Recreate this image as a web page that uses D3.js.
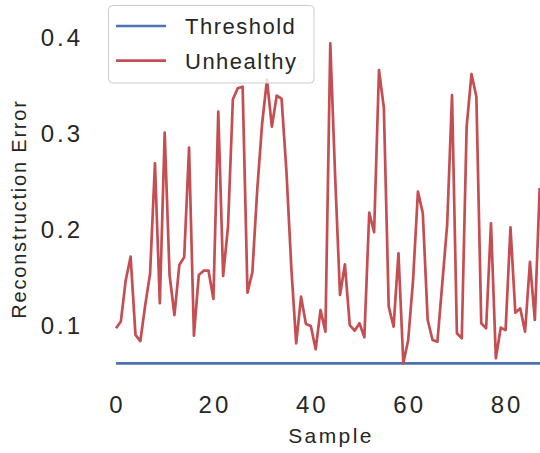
<!DOCTYPE html>
<html>
<head>
<meta charset="utf-8">
<script src="https://cdn.jsdelivr.net/npm/d3@7"></script>
<style>
  html, body { margin: 0; padding: 0; background: #fff; }
  svg { display: block; }
  text { font-family: "Liberation Sans", Arial, sans-serif; fill: #262626; }
</style>
</head>
<body>
<svg id="chart" width="540" height="453"></svg>
<script>
// ---- data ----
const unhealthy = [
  0.097, 0.104, 0.147, 0.1715, 0.090, 0.0836, 0.121, 0.154, 0.2687, 0.123,
  0.3006, 0.1524, 0.1107, 0.1628, 0.1708, 0.285, 0.0892, 0.1524, 0.1569, 0.1569,
  0.1274, 0.3225, 0.1514, 0.2027, 0.3354, 0.3469, 0.3485, 0.134, 0.1552, 0.241,
  0.3097, 0.356, 0.3069, 0.3392, 0.336, 0.26, 0.16, 0.0812, 0.1298, 0.1014,
  0.0993, 0.075, 0.1159, 0.0933, 0.3938, 0.255, 0.1316, 0.1635, 0.1003, 0.0944,
  0.1021, 0.0875, 0.2173, 0.1969, 0.3659, 0.3266, 0.1194, 0.0985, 0.175, 0.0604,
  0.0847, 0.1472, 0.2392, 0.2167, 0.1055, 0.0847, 0.0829, 0.1437, 0.2045, 0.3399,
  0.0917, 0.0865, 0.3069, 0.3618, 0.3381, 0.1021, 0.0969, 0.2062, 0.0656, 0.0975,
  0.0951, 0.2021, 0.1131, 0.1177, 0.0933, 0.1662, 0.1055, 0.243
];
const threshold = 0.0604;
const xTicks = [0, 20, 40, 60, 80];
const yTicks = [0.1, 0.2, 0.3, 0.4];
const seriesNames = ["Threshold", "Unhealthy"];
const seriesColors = ["#4c72b0", "#c44e52"];

// ---- layout ----
const svg = d3.select("#chart");
const plot = { left: 116, right: 540, top: 0, bottom: 385 };

const x = d3.scaleLinear().domain([0, 80]).range([116, 505.6]);
const y = d3.scaleLinear().domain([0.1, 0.4]).range([325.3, 37.3]);

svg.append("defs").append("clipPath").attr("id", "clip")
  .append("rect").attr("x", plot.left - 2).attr("y", plot.top)
  .attr("width", plot.right - plot.left + 2).attr("height", plot.bottom - plot.top);

const g = svg.append("g").attr("clip-path", "url(#clip)");

const xMaxIdx = unhealthy.length - 1;
// threshold line
g.append("path")
  .datum([0, xMaxIdx + 5])
  .attr("d", d3.line().x(d => x(d)).y(() => y(threshold)))
  .attr("fill", "none").attr("stroke", seriesColors[0]).attr("stroke-width", 2.7);

// unhealthy line
g.append("path")
  .datum(unhealthy)
  .attr("d", d3.line().x((d, i) => x(i)).y(d => y(d)))
  .attr("fill", "none").attr("stroke", seriesColors[1]).attr("stroke-width", 2.7)
  .attr("stroke-linejoin", "round");

// x tick labels
svg.append("g").selectAll("text").data(xTicks).join("text")
  .attr("x", d => x(d)).attr("y", 412.7)
  .attr("text-anchor", "middle")
  .style("font-size", "24px").style("letter-spacing", "3px")
  .attr("dx", 1.5)
  .text(d => d3.format("d")(d));

// y tick labels
svg.append("g").selectAll("text").data(yTicks).join("text")
  .attr("x", 80).attr("y", d => y(d) + 8.4)
  .attr("text-anchor", "end")
  .style("font-size", "24px").style("letter-spacing", "3px")
  .attr("dx", 3)
  .text(d => d3.format(".1f")(d));

// axis labels
svg.append("text")
  .attr("x", 331).attr("y", 443)
  .attr("text-anchor", "middle")
  .style("font-size", "21px").style("letter-spacing", "2.4px")
  .text("Sample");

svg.append("text")
  .attr("transform", "translate(26,209) rotate(-90)")
  .attr("text-anchor", "middle")
  .style("font-size", "20px").style("letter-spacing", "1.8px")
  .text("Reconstruction Error");

// legend
const lg = svg.append("g");
lg.append("rect")
  .attr("x", 108.5).attr("y", 5.5).attr("width", 205.5).attr("height", 77.5)
  .attr("rx", 4).attr("ry", 4)
  .attr("fill", "#ffffff").attr("fill-opacity", 0.8)
  .attr("stroke", "#cccccc").attr("stroke-width", 1);
const legendY = [26, 60.7];
seriesNames.forEach((name, i) => {
  lg.append("line")
    .attr("x1", 116).attr("x2", 166)
    .attr("y1", legendY[i]).attr("y2", legendY[i])
    .attr("stroke", seriesColors[i]).attr("stroke-width", 2.7);
  lg.append("text")
    .attr("x", 185).attr("y", legendY[i] + 8.2)
    .style("font-size", "22px").style("letter-spacing", "1.5px")
    .text(name);
});
</script>
</body>
</html>
